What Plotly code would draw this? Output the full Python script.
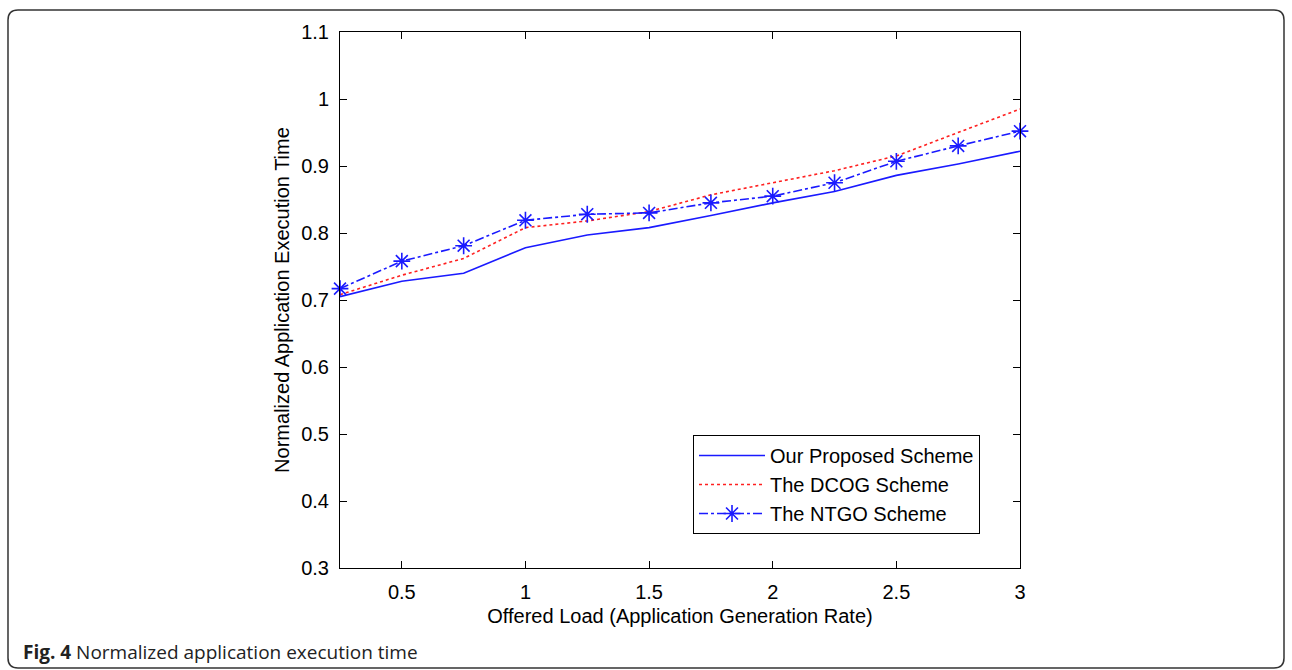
import plotly.graph_objects as go

offered_load = [0.25, 0.5, 0.75, 1.0, 1.25, 1.5, 1.75, 2.0, 2.25, 2.5, 2.75, 3.0]
proposed = [0.705, 0.728, 0.740, 0.778, 0.797, 0.808, 0.826, 0.845, 0.862, 0.886, 0.903, 0.922]
dcog = [0.708, 0.737, 0.762, 0.808, 0.818, 0.832, 0.857, 0.875, 0.893, 0.915, 0.950, 0.985]
ntgo = [0.717, 0.758, 0.781, 0.819, 0.828, 0.830, 0.845, 0.855, 0.875, 0.907, 0.930, 0.952]

x_ticks = [0.5, 1, 1.5, 2, 2.5, 3]
x_ticklabels = ["0.5", "1", "1.5", "2", "2.5", "3"]
y_ticks = [0.3, 0.4, 0.5, 0.6, 0.7, 0.8, 0.9, 1.0, 1.1]
y_ticklabels = ["0.3", "0.4", "0.5", "0.6", "0.7", "0.8", "0.9", "1", "1.1"]

W, H = 1292, 670
L, R, T, B = 340, 1020, 32, 568

def px(x):
    return (x - L) / (R - L)

def py(y):
    return (B - y) / (B - T)

font_axis = "Liberation Sans, Arial, sans-serif"
FS = 20

fig = go.Figure()
fig.add_trace(go.Scatter(x=offered_load, y=proposed, mode="lines", name="Our Proposed Scheme",
                         line=dict(color="#1a1aff", width=1.6)))
fig.add_trace(go.Scatter(x=offered_load, y=dcog, mode="lines", name="The DCOG Scheme",
                         line=dict(color="#ff2020", width=1.6, dash="dot")))
fig.add_trace(go.Scatter(x=offered_load, y=ntgo, mode="lines+markers", name="The NTGO Scheme",
                         line=dict(color="#1a1aff", width=1.6, dash="dashdot"),
                         marker=dict(symbol="asterisk-open", size=14, color="#1a1aff",
                                     line=dict(color="#1a1aff", width=1.6)),
                         cliponaxis=False))

# card border with rounded corners (paper coordinates)
x0, x1, y0, y1, r = 8, 1284, 10, 668, 10
def P(xp, yp):
    return f"{px(xp):.5f},{py(yp):.5f}"
path = (f"M {P(x0 + r, y0)} L {P(x1 - r, y0)} Q {P(x1, y0)} {P(x1, y0 + r)} "
        f"L {P(x1, y1 - r)} Q {P(x1, y1)} {P(x1 - r, y1)} "
        f"L {P(x0 + r, y1)} Q {P(x0, y1)} {P(x0, y1 - r)} "
        f"L {P(x0, y0 + r)} Q {P(x0, y0)} {P(x0 + r, y0)} Z")
fig.add_shape(type="path", xref="paper", yref="paper", path=path,
              line=dict(color="#333333", width=1.5), layer="below")

fig.add_annotation(xref="paper", yref="paper", x=px(21), y=py(652), xanchor="left", yanchor="middle",
                   showarrow=False,
                   text="<b>Fig. 4</b> Normalized application execution time",
                   font=dict(family="Open Sans, sans-serif", size=19, color="#222222"))

fig.update_layout(
    width=W, height=H,
    margin=dict(l=L, r=W - R, t=T, b=H - B),
    paper_bgcolor="white", plot_bgcolor="white",
    font=dict(family=font_axis, size=FS, color="black"),
    showlegend=True,
    legend=dict(x=px(693), y=py(435), xanchor="left", yanchor="top",
                bgcolor="white", bordercolor="black", borderwidth=1,
                font=dict(family=font_axis, size=FS, color="black"),
                itemwidth=66),
)
fig.update_xaxes(range=[0.25, 3], tickvals=x_ticks, ticktext=x_ticklabels,
                 ticks="inside", ticklen=7, tickcolor="black", showline=True, linecolor="black",
                 linewidth=1, mirror="ticks", showgrid=False, zeroline=False,
                 ticklabelstandoff=6,
                 title=dict(text="Offered Load (Application Generation Rate)", standoff=6,
                            font=dict(family=font_axis, size=FS)),
                 tickfont=dict(family=font_axis, size=FS))
fig.update_yaxes(range=[0.3, 1.1], tickvals=y_ticks, ticktext=y_ticklabels,
                 ticks="inside", ticklen=7, tickcolor="black", showline=True, linecolor="black",
                 linewidth=1, mirror="ticks", showgrid=False, zeroline=False,
                 ticklabelstandoff=6,
                 title=dict(text="Normalized Application Execution Time", standoff=6,
                            font=dict(family=font_axis, size=FS)),
                 tickfont=dict(family=font_axis, size=FS))

fig.write_html("out.html", config={"displayModeBar": False},
               post_script="document.body.style.margin='0px';document.body.style.overflow='hidden';")
